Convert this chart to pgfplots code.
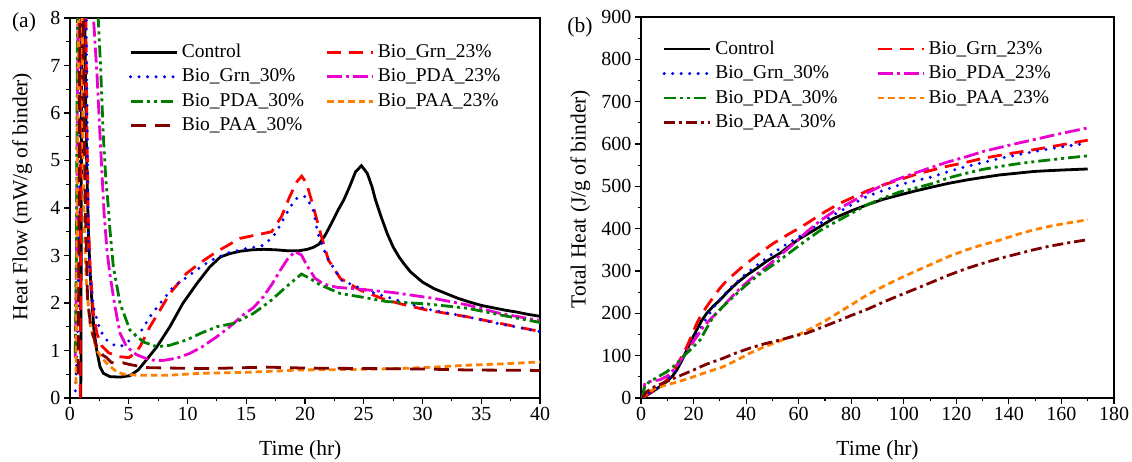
\documentclass[border=0pt]{standalone}
\usepackage{fontspec}
\setmainfont{Liberation Serif}
\usepackage{pgfplots}
\pgfplotsset{compat=1.18}
\definecolor{cred}{RGB}{255,0,0}
\definecolor{cblue}{RGB}{0,0,240}
\definecolor{cmag}{RGB}{235,0,210}
\definecolor{cgreen}{RGB}{0,125,0}
\definecolor{corange}{RGB}{255,128,0}
\definecolor{cdred}{RGB}{128,0,0}
\pgfplotsset{
  base/.style={
    scale only axis,
    axis line style={line width=1.1pt},
    tick style={line width=1.1pt, black},
    tick align=outside, xtick pos=bottom, ytick pos=left,
    major tick length=6pt, minor tick length=3.5pt,
    minor x tick num=1, minor y tick num=1,
    tick label style={font=\fontsize{20}{24}\selectfont},
    label style={font=\fontsize{21.5}{25}\selectfont},
    /pgf/number format/assume math mode=true,
    legend columns=2,
    legend cell align=left,
    legend style={draw=none, fill=none, font=\fontsize{19.5}{22}\selectfont, anchor=north west, inner sep=0pt, row sep=3.5pt,
      column sep=2pt,
      nodes={inner sep=1.5pt, text height=14pt, text depth=4pt}},
    legend image code/.code={\draw[#1] (0pt,0pt) -- (46pt,0pt);},
  },
  ctrl/.style={black, line width=2.8pt},
  grn23/.style={cred, line width=2.8pt, dash pattern=on 14pt off 8pt},
  grn30/.style={cblue, line width=3.3pt, line cap=round, dash pattern=on 0pt off 8.5pt},
  pda23/.style={cmag, line width=2.8pt, dash pattern=on 15pt off 4pt on 3pt off 4pt},
  pda30/.style={cgreen, line width=2.8pt, dash pattern=on 12pt off 4pt on 3pt off 4pt on 3pt off 4pt},
  paa23/.style={corange, line width=2.8pt, dash pattern=on 6.5pt off 4pt},
  paa30L/.style={cdred, line width=2.8pt, dash pattern=on 15pt off 9pt},
  paa30R/.style={cdred, line width=2.8pt, dash pattern=on 11pt off 4pt on 3pt off 4pt},
}
\begin{document}
\begin{tikzpicture}
\useasboundingbox (-70pt,-64pt) rectangle (1062pt,398pt);
\begin{axis}[base, name=A, width=470pt, height=380pt,
  xmin=0, xmax=40, ymin=0, ymax=8,
  xtick={0,5,...,40}, ytick={0,1,...,8},
  xlabel={Time (hr)}, ylabel={Heat Flow (mW/g of binder)},
  xlabel style={at={(axis description cs:0.49,-0.137)}, anchor=center},
  ylabel style={at={(axis description cs:-0.102,0.53)}, anchor=center},
  legend style={at={(axis description cs:0.125,0.938)},
    /tikz/every even column/.append style={column sep=20pt}},
]
\addplot[ctrl] coordinates {(0.92,0)(0.97,5)(1.02,10)(1.18,10)(1.25,8)(1.4,5.2)(1.56,3.54)(1.7,2.7)(1.84,2.13)(2.04,1.43)(2.27,1.01)(2.55,0.66)(2.84,0.52)(3.4,0.45)(4.26,0.44)(5.1,0.47)(5.8,0.59)(6.5,0.8)(7.4,1.08)(8.5,1.5)(9.6,1.99)(10.8,2.41)(11.9,2.76)(12.8,2.97)(13.6,3.04)(14.5,3.09)(15.5,3.12)(16.5,3.13)(17.5,3.12)(18.5,3.1)(19.5,3.1)(20.2,3.13)(20.7,3.17)(21.2,3.24)(21.7,3.42)(22.3,3.7)(22.8,3.95)(23.3,4.17)(23.8,4.45)(24.3,4.76)(24.8,4.89)(25.3,4.73)(25.7,4.45)(26,4.17)(26.5,3.8)(27,3.46)(27.5,3.18)(28,2.97)(28.5,2.8)(29,2.65)(30,2.44)(31,2.3)(32,2.2)(33,2.1)(34,2.02)(35,1.95)(36,1.9)(37,1.85)(38,1.81)(39,1.76)(40,1.72)};
\addlegendentry{Control}
\addplot[grn23] coordinates {(0.87,0)(0.9,5)(0.95,10)(1.25,10)(1.35,8)(1.45,5.5)(1.55,3.8)(1.7,2.8)(1.99,1.78)(2.3,1.35)(2.7,1.1)(3.3,0.95)(4.2,0.87)(5.0,0.85)(5.53,0.94)(5.96,1.08)(6.8,1.5)(7.66,1.85)(8.5,2.2)(9.9,2.62)(11.06,2.84)(12.0,3.0)(12.77,3.12)(14.47,3.36)(15.8,3.43)(17.16,3.5)(18.0,3.82)(18.7,4.24)(19.3,4.55)(19.72,4.67)(20.14,4.52)(20.7,4.03)(21.4,3.4)(22,2.9)(23,2.52)(24.7,2.27)(26.95,2.06)(28.5,1.96)(30.4,1.85)(33.8,1.71)(36.6,1.57)(40,1.4)};
\addlegendentry{Bio\_Grn\_23\%}
\addplot[grn30] coordinates {(0.45,0.15)(0.55,0.6)(0.7,2)(0.85,6)(0.95,10)(1.3,10)(1.45,6)(1.56,3.33)(1.7,2.55)(1.99,1.92)(2.55,1.43)(3.12,1.22)(3.7,1.12)(4.26,1.08)(4.8,1.15)(5.25,1.26)(6.1,1.43)(6.8,1.71)(7.66,1.99)(8.8,2.34)(9.8,2.52)(10.8,2.7)(12,2.9)(13.5,3.06)(15.04,3.15)(16.3,3.2)(17.25,3.38)(17.8,3.6)(18.44,3.89)(19.15,4.18)(19.6,4.24)(20.09,4.24)(20.7,3.96)(21.1,3.47)(21.85,2.97)(23.1,2.48)(24.7,2.31)(26,2.2)(28,2.05)(30.4,1.87)(33.8,1.71)(36.6,1.56)(40,1.4)};
\addlegendentry{Bio\_Grn\_30\%}
\addplot[pda23] coordinates {(0.45,0.85)(0.55,3)(0.65,7)(0.72,10)(1.8,10)(2.0,8.0)(2.3,6.8)(2.6,5.3)(2.9,3.9)(3.15,3.1)(3.4,2.6)(3.83,1.92)(4.26,1.36)(4.82,1.08)(5.67,0.91)(6.8,0.8)(7.9,0.79)(9.1,0.84)(10.2,0.94)(11.2,1.07)(12.5,1.29)(13.5,1.48)(14.75,1.75)(15.6,1.9)(16.45,2.13)(17.2,2.4)(17.9,2.69)(18.5,2.92)(19.15,3.08)(19.7,3.01)(20.14,2.8)(20.85,2.52)(21.6,2.4)(22.7,2.33)(24.7,2.29)(27.5,2.22)(30.9,2.1)(33.8,1.96)(36.6,1.78)(40,1.63)};
\addlegendentry{Bio\_PDA\_23\%}
\addplot[pda30] coordinates {(0.45,0.95)(0.55,3)(0.62,7)(0.7,10)(2.2,10)(2.4,8.0)(2.6,7.0)(2.83,5.55)(3.05,4.6)(3.27,4.0)(3.4,3.54)(3.69,2.76)(4.26,1.99)(5.1,1.43)(6.24,1.18)(7.4,1.08)(8.5,1.11)(9.9,1.22)(11.2,1.37)(12.5,1.5)(13.9,1.57)(15.6,1.78)(17.0,2.03)(18.4,2.34)(19.7,2.61)(20.4,2.52)(21.3,2.38)(23,2.2)(24.7,2.13)(26.95,2.03)(30.4,1.98)(33.8,1.89)(36.6,1.75)(40,1.59)};
\addlegendentry{Bio\_PDA\_30\%}
\addplot[paa23] coordinates {(0.5,0.3)(0.6,3)(0.7,7)(0.8,10)(1.0,10)(1.1,5.2)(1.24,3.45)(1.4,2.4)(1.7,1.57)(2.0,1.25)(2.27,1.01)(2.7,0.85)(3.12,0.73)(3.97,0.55)(4.6,0.5)(5.67,0.48)(8.5,0.48)(11.06,0.52)(15,0.54)(19.6,0.59)(24,0.6)(28.1,0.62)(31,0.65)(33.8,0.69)(37,0.72)(40,0.76)};
\addlegendentry{Bio\_PAA\_23\%}
\addplot[paa30L] coordinates {(0.7,0.5)(0.8,5)(0.85,10)(1.1,10)(1.2,6)(1.3,4)(1.5,2.05)(1.8,1.45)(2.27,1.08)(2.8,0.9)(3.12,0.85)(3.5,0.75)(4.0,0.73)(4.5,0.74)(5.0,0.71)(5.4,0.69)(6.5,0.64)(8.5,0.63)(11.9,0.62)(16.7,0.65)(20,0.63)(25.3,0.62)(30,0.61)(33.8,0.59)(40,0.58)};
\addlegendentry{Bio\_PAA\_30\%}
\end{axis}
\node[font=\fontsize{21.5}{25}\selectfont] at ([xshift=-46pt,yshift=-4.5pt]A.north west) {(a)};
\begin{axis}[base, name=B, at={(571pt,0pt)}, width=473pt, height=381pt,
  xmin=0, xmax=180, ymin=0, ymax=900,
  xtick={0,20,...,180}, ytick={0,100,...,900},
  xlabel={Time (hr)}, ylabel={Total Heat (J/g of binder)},
  xlabel style={at={(axis description cs:0.5,-0.137)}, anchor=center},
  ylabel style={at={(axis description cs:-0.128,0.522)}, anchor=center},
  legend style={at={(axis description cs:0.045,0.944)},
    /tikz/every even column/.append style={column sep=37pt}},
]
\addplot[ctrl] coordinates {(0.5,0)(3.4,11)(6.5,24)(9.8,39)(12,52)(13.6,66)(15.5,88)(17.4,113)(19.3,138)(21.2,161)(23,182)(25,200)(27.5,217)(30,231)(33,251)(36.4,271)(40,289)(44,306)(48,324)(52.9,342)(56.7,360)(60.5,377)(66,397)(73.2,424)(80,442)(85.9,456)(92,469)(98.6,480)(105,490)(111.2,499)(117,507)(123.9,515)(130,521)(136.6,527)(143,531)(149.3,535)(155,537)(162,539)(170,541)};
\addlegendentry{Control}
\addplot[grn23] coordinates {(0.5,0)(3.4,12)(6.5,25)(9.8,42)(12,60)(14.8,90)(17.4,121)(19.3,148)(21.2,176)(23,197)(25,216)(27.5,238)(30,259)(33,280)(36.4,298)(39.5,315)(42.7,330)(46.5,348)(50.3,365)(53.5,377)(56.7,389)(60.5,402)(65,420)(70,440)(75.7,460)(81,475)(86,489)(92,503)(98.6,516)(105,529)(111.2,539)(117,548)(123.9,557)(130,566)(140,577)(150,587)(160,598)(170,609)};
\addlegendentry{Bio\_Grn\_23\%}
\addplot[grn30] coordinates {(0.5,0)(3.4,13)(6.5,26)(9.8,42)(12,55)(14.8,82)(17.4,110)(20,140)(22.5,163)(25.5,194)(28.8,224)(31,240)(33.9,259)(37,277)(40.2,295)(45,318)(50.3,342)(54,358)(58,373)(63,392)(68,412)(73.2,432)(80,456)(85.9,476)(92,490)(98.6,504)(105,514)(111.2,523)(117,535)(123.9,547)(130,556)(136.6,566)(143,574)(149.3,582)(155,588)(162,595)(170,602)};
\addlegendentry{Bio\_Grn\_30\%}
\addplot[pda23] coordinates {(0.5,0)(1.5,35)(4,40)(7.2,43)(10,52)(12.3,66)(15,88)(18.6,121)(21,143)(23.7,168)(27,190)(30,208)(33.5,232)(37.7,259)(42.5,285)(47.8,310)(52,332)(56.7,357)(60,375)(63,392)(68,418)(73.2,440)(80,463)(85.9,484)(92,503)(98.6,519)(105,533)(111.2,546)(117,558)(123.9,570)(130,582)(140,597)(150,611)(160,625)(170,638)};
\addlegendentry{Bio\_PDA\_23\%}
\addplot[pda30] coordinates {(0.5,0)(1.5,30)(3.4,39)(6.5,50)(9.8,62)(13,78)(16.1,98)(19.3,117)(22.5,137)(25,165)(27.5,192)(31,215)(35.1,239)(39.5,264)(44,287)(48.5,307)(52.9,326)(58,350)(63,373)(68,395)(73.2,413)(80,436)(85.9,456)(92,472)(98.6,487)(105,497)(111.2,507)(117,520)(123.9,531)(130,540)(136.6,547)(143,553)(149.3,558)(155,562)(162,567)(170,572)};
\addlegendentry{Bio\_PDA\_30\%}
\addplot[paa23] coordinates {(0.5,0)(2.2,11)(5,22)(9.8,31)(15,40)(19.9,50)(25,61)(31.3,74)(36,88)(41.5,106)(47,121)(52.9,135)(56,142)(60,150)(65,165)(70,182)(75,201)(80,220)(85.9,243)(92,263)(98.6,283)(105,301)(111.2,318)(117,334)(123.9,350)(130,362)(136.6,373)(143,386)(149.3,397)(155,405)(162,413)(170,421)};
\addlegendentry{Bio\_PAA\_23\%}
\addplot[paa30R] coordinates {(0.5,0)(2.2,15)(5,26)(9.8,39)(15,53)(19.9,66)(25,80)(31.3,94)(36,106)(41.5,118)(47,128)(52.9,137)(58,146)(63,153)(68,165)(75,182)(80,195)(85.9,209)(92,226)(98.6,243)(105,259)(111.2,275)(117,290)(123.9,306)(130,318)(136.6,330)(143,340)(149.3,350)(155,358)(162,366)(170,374)};
\addlegendentry{Bio\_PAA\_30\%}
\end{axis}
\node[font=\fontsize{21.5}{25}\selectfont] at ([xshift=-61pt,yshift=-10pt]B.north west) {(b)};
\end{tikzpicture}
\end{document}
